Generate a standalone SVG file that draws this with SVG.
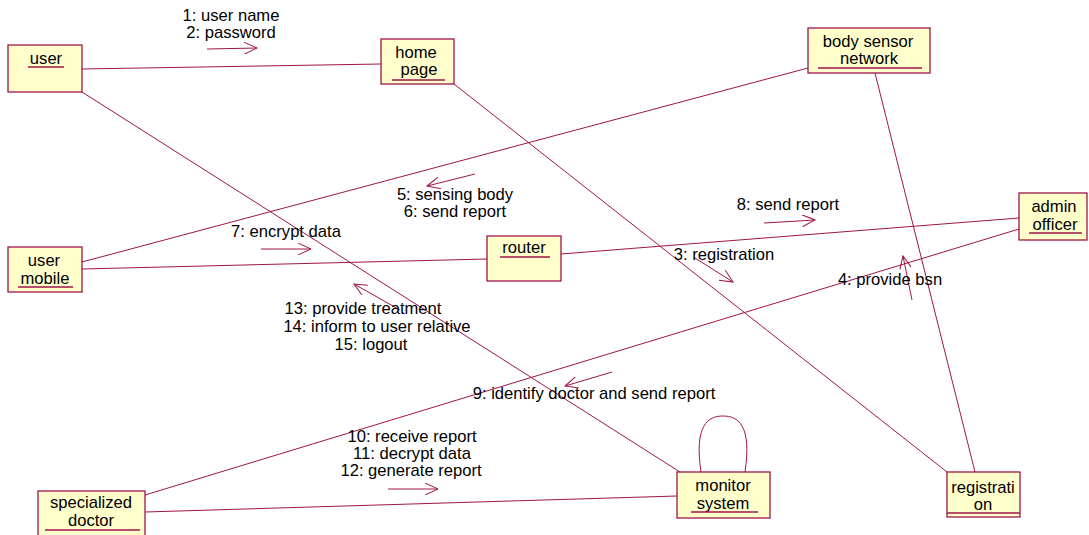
<svg xmlns="http://www.w3.org/2000/svg" width="1089" height="535" viewBox="0 0 1089 535">
<style>
.n{fill:#ffffcc;stroke:#a0144a;stroke-width:1.3}
.u{stroke:#a0144a;stroke-width:1.3}
.c{stroke:#a0144a;stroke-width:1;fill:none}
.m{stroke:#a0144a;stroke-width:1;fill:none;marker-end:url(#ah)}
text{font-family:"Liberation Sans",Arial,sans-serif;font-size:16.6px;fill:#000;text-anchor:middle}
</style>
<defs>
<marker id="ah" viewBox="0 0 14 12" refX="13" refY="6" markerWidth="14" markerHeight="12" markerUnits="userSpaceOnUse" orient="auto">
<polyline points="0,0 13,6 0,12" fill="none" stroke="#a0144a" stroke-width="1"/>
</marker>
</defs>
<rect width="1089" height="535" fill="#fff"/>
<g id="connectors">
<line class="c" x1="82" y1="69" x2="381" y2="64"/>
<line class="c" x1="82" y1="92" x2="680" y2="472"/>
<line class="c" x1="454" y1="84" x2="947" y2="472"/>
<line class="c" x1="808" y1="68" x2="82" y2="262"/>
<line class="c" x1="875" y1="73" x2="975" y2="472"/>
<line class="c" x1="82" y1="269" x2="487" y2="259"/>
<line class="c" x1="561" y1="254" x2="1019" y2="218"/>
<line class="c" x1="1019" y1="229" x2="145" y2="495"/>
<line class="c" x1="145" y1="512" x2="677" y2="496"/>
<path class="c" d="M701,472 C694,425 708,416 723,416 C738,416 752,425 745,472"/>
<line class="m" x1="207" y1="49" x2="257" y2="48"/>
<line class="m" x1="475" y1="174" x2="427" y2="186"/>
<line class="m" x1="261" y1="249" x2="311" y2="249"/>
<line class="m" x1="764" y1="223" x2="815" y2="220"/>
<line class="m" x1="695" y1="258" x2="733" y2="282"/>
<line class="m" x1="912" y1="300" x2="903" y2="256"/>
<line class="m" x1="400" y1="310" x2="354" y2="284"/>
<line class="m" x1="612" y1="372" x2="565" y2="386"/>
<line class="m" x1="388" y1="489" x2="438" y2="489"/>
</g>
<g id="labels">
<text x="231" y="21">1: user name</text>
<text x="231" y="38">2: password</text>
<text x="455" y="200">5: sensing body</text>
<text x="455" y="217">6: send report</text>
<text x="286" y="237">7: encrypt data</text>
<text x="788" y="210">8: send report</text>
<text x="724" y="260">3: registration</text>
<text x="890" y="285">4: provide bsn</text>
<text x="363" y="314">13: provide treatment</text>
<text x="377" y="332">14: inform to user relative</text>
<text x="371" y="350">15: logout</text>
<text x="594" y="399">9: identify doctor and send report</text>
<text x="412" y="442">10: receive report</text>
<text x="412" y="459">11: decrypt data</text>
<text x="411" y="476">12: generate report</text>
</g>
<g id="user">
<rect class="n" x="8" y="45" width="74" height="47"/>
<text x="46" y="64">user</text>
<line class="u" x1="28" y1="67" x2="64" y2="67"/>
</g>
<g id="home-page">
<rect class="n" x="381" y="39" width="73" height="45"/>
<text x="416" y="58">home</text>
<text x="419" y="75">page</text>
<line class="u" x1="392" y1="80" x2="445" y2="80"/>
</g>
<g id="body-sensor-network">
<rect class="n" x="808" y="28" width="122" height="45"/>
<text x="868" y="47">body sensor</text>
<text x="869" y="64">network</text>
<line class="u" x1="818" y1="68" x2="922" y2="68"/>
</g>
<g id="user-mobile">
<rect class="n" x="8" y="247" width="74" height="45"/>
<text x="44" y="266">user</text>
<text x="45" y="284">mobile</text>
<line class="u" x1="18" y1="287" x2="73" y2="287"/>
</g>
<g id="router">
<rect class="n" x="487" y="236" width="74" height="45"/>
<text x="524" y="253">router</text>
<line class="u" x1="500" y1="257" x2="550" y2="257"/>
</g>
<g id="admin-officer">
<rect class="n" x="1019" y="193" width="68" height="47"/>
<text x="1054" y="212">admin</text>
<text x="1055" y="230">officer</text>
<line class="u" x1="1029" y1="233" x2="1082" y2="233"/>
</g>
<g id="specialized-doctor">
<rect class="n" x="38" y="491" width="107" height="50"/>
<text x="91" y="508">specialized</text>
<text x="91" y="526">doctor</text>
<line class="u" x1="45" y1="530" x2="140" y2="530"/>
</g>
<g id="monitor-system">
<rect class="n" x="677" y="472" width="93" height="46"/>
<text x="723" y="491">monitor</text>
<text x="723" y="509">system</text>
<line class="u" x1="691" y1="512" x2="758" y2="512"/>
</g>
<g id="registration">
<rect class="n" x="947" y="472" width="73" height="45"/>
<text x="983" y="493">registrati</text>
<text x="983" y="510">on</text>
<line class="u" x1="947" y1="513" x2="1020" y2="513"/>
</g>
</svg>
